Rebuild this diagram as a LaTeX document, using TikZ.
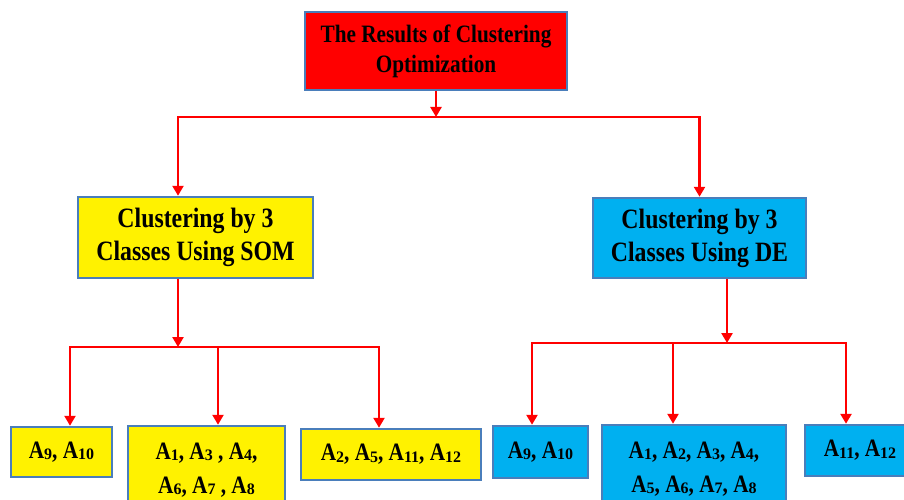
\documentclass[tikz,border=0pt]{standalone}
\usepackage{fontspec}
\setmainfont{Liberation Serif}
\newfontfamily\boxfont[FakeStretch=0.85]{Liberation Serif}
\usetikzlibrary{positioning, arrows.meta}

\definecolor{edgeblue}{HTML}{4A7EBB}
\definecolor{skyfill}{HTML}{00B0F0}
\newcommand{\ix}[1]{\raisebox{-0.06em}{\normalfont\bfseries\fontsize{16}{16}\selectfont #1}}

\begin{document}
\begin{tikzpicture}[
  x=1pt, y=-1pt,
  box/.style={rectangle, fill=#1, draw=edgeblue, line width=2.5pt,
              inner sep=0pt, align=center, font=\boxfont\bfseries},
  topbox/.style={box=red, font=\boxfont\bfseries\fontsize{25}{30}\selectfont},
  midbox/.style={box=#1, font=\boxfont\bfseries\fontsize{28}{33}\selectfont},
  leaf/.style={box=#1, font=\boxfont\bfseries\fontsize{25}{34}\selectfont},
  arr/.style={draw=red, line width=2.5pt, -{Triangle[length=10pt, width=11pt]}},
]
\useasboundingbox (0,0) rectangle (904,500);
\clip (0,0) rectangle (904,500);
\fill[white] (0,0) rectangle (904,500);

% --- top
\node[topbox, minimum width=262pt, minimum height=78pt] (res) at (436,51)
  {The Results of Clustering\\Optimization};

% --- two methods
\node[midbox=yellow, minimum width=235pt, minimum height=81pt] (som) at (195.5,237.5)
  {Clustering by 3\\Classes Using SOM};
\node[midbox=skyfill, minimum width=213pt, minimum height=80pt] (de) at (699.5,238)
  {Clustering by 3\\Classes Using DE};

% --- SOM classes
\node[leaf=yellow, minimum width=101pt, minimum height=50pt] (s1) at (61.5,452)
  {A\ix{9}, A\ix{10}};
\node[leaf=yellow, minimum width=157pt, minimum height=88pt] (s2) at (206.5,470)
  {A\ix{1}, A\ix{3} , A\ix{4},\\A\ix{6}, A\ix{7} , A\ix{8}};
\node[leaf=yellow, minimum width=180pt, minimum height=51pt] (s3) at (391,454.5)
  {A\ix{2}, A\ix{5}, A\ix{11}, A\ix{12}};

% --- DE classes
\node[leaf=skyfill, minimum width=95pt, minimum height=52pt] (d1) at (540.5,452)
  {A\ix{9}, A\ix{10}};
\node[leaf=skyfill, minimum width=184pt, minimum height=88pt] (d2) at (694,469)
  {A\ix{1}, A\ix{2}, A\ix{3}, A\ix{4},\\A\ix{5}, A\ix{6}, A\ix{7}, A\ix{8}};
\node[leaf=skyfill, minimum width=110pt, minimum height=51pt] (d3) at (860,450.5)
  {A\ix{11}, A\ix{12}};

% --- connectors
\coordinate (jt) at (436,117);
\coordinate (js) at (178,347);
\coordinate (jd) at (727,343);

\draw[arr] (res.south) -- (jt);
\draw[arr] (jt) -| ([xshift=-17.5pt]som.north);
\draw[arr] (jt) -| (de.north);

\draw[arr] ([xshift=-17.5pt]som.south) -- (js);
\foreach \n/\dx in {s1/8.5, s2/11.5, s3/-12}
  \draw[arr] (js) -| ([xshift=\dx pt]\n.north);

\draw[arr] ([xshift=27.5pt]de.south) -- (jd);
\foreach \n/\dx in {d1/-8.5, d2/-21, d3/-14}
  \draw[arr] (jd) -| ([xshift=\dx pt]\n.north);
\end{tikzpicture}
\end{document}
